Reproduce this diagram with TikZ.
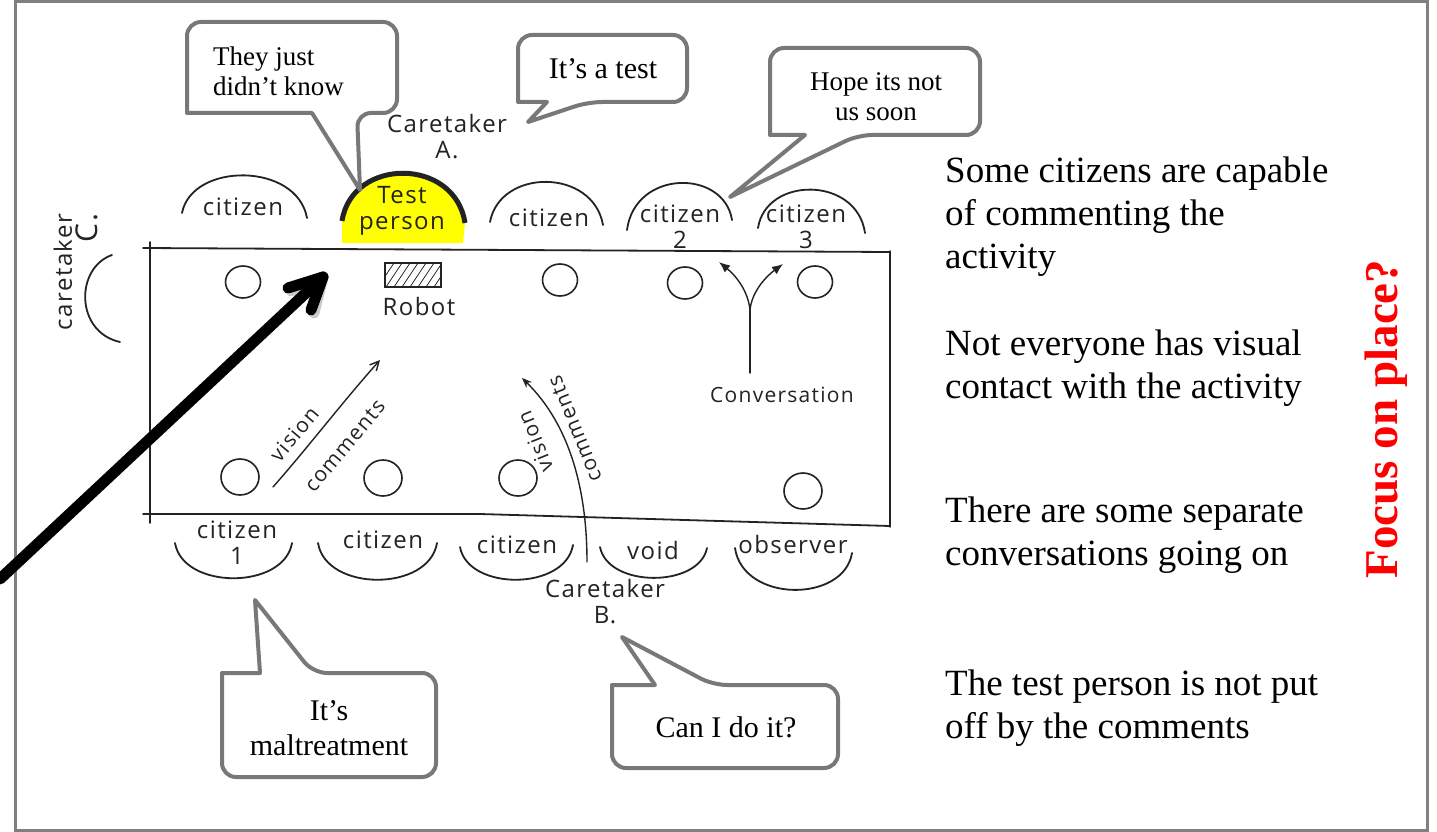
\documentclass[tikz,border=0pt]{standalone}
\usepackage{fontspec}
\setmainfont{Liberation Serif}
\newfontfamily\handfont{Open Sans}[LetterSpace=6]
\usetikzlibrary{arrows.meta,shapes.geometric}

\definecolor{framegray}{RGB}{128,128,128}
\definecolor{bubblegray}{RGB}{120,120,120}
\definecolor{ink}{RGB}{35,35,35}
\definecolor{hilite}{RGB}{255,255,0}
\definecolor{focusred}{RGB}{255,0,0}

\tikzset{
  sketch/.style={draw=ink, line width=1.8pt, line cap=round, line join=round},
  thinink/.style={draw=ink, line width=1.4pt, line cap=round},
  hand/.style={font=\handfont\fontsize{24}{26}\selectfont, text=ink, inner sep=0pt, align=center},
  smallhand/.style={hand, font=\handfont\fontsize{21}{24}\selectfont},
  bubble/.style={draw=bubblegray, line width=4pt, fill=white, line join=round},
  bubbletxt/.style={font=\fontsize{27}{30}\selectfont, inner sep=0pt, align=center},
  bigbubbletxt/.style={font=\fontsize{30}{35}\selectfont, inner sep=0pt, align=center},
  note/.style={font=\fontsize{37}{43}\selectfont, anchor=north west, inner sep=0pt, align=left},
  topspot/.style={draw=ink, line width=1.6pt, ellipse, minimum width=35pt, minimum height=32pt, inner sep=0pt},
  lowspot/.style={draw=ink, line width=1.6pt, ellipse, minimum width=38pt, minimum height=36pt, inner sep=0pt},
  pointer/.style={line width=11pt, line cap=round, line join=round},
}

\begin{document}
\begin{tikzpicture}[x=1pt,y=-1pt]
\useasboundingbox (0,0) rectangle (1437,832);
\fill[white] (0,0) rectangle (1437,832);
\draw[framegray, line width=3pt] (15,2) rectangle (1427,830);

% highlighted seat of the test person
\fill[hilite] (342,243) -- (342,221) .. controls (352,160) and (455,160) .. (465,223) -- (463,243) -- cycle;
\draw[ink, line width=5pt] (342,221) .. controls (352,157) and (455,157) .. (465,223);

% seats along the upper side
\draw[sketch] (182,213) .. controls (192,162) and (297,162) .. (307,218);
\draw[sketch] (490,222) .. controls (500,168) and (593,168) .. (603,225);
\draw[sketch] (627,230) .. controls (635,169) and (724,169) .. (732,220);
\draw[sketch] (758,228) .. controls (766,176) and (857,176) .. (865,233);

% seat of caretaker C
\draw[sketch] (112,255) .. controls (75,268) and (75,332) .. (120,342);

% seats along the lower side
\draw[sketch] (175,543) .. controls (183,590) and (284,590) .. (292,543);
\draw[sketch] (318,543) .. controls (326,592) and (429,592) .. (437,543);
\draw[sketch] (460,547) .. controls (468,591) and (565,591) .. (573,545);
\draw[sketch] (600,547) .. controls (608,588) and (699,588) .. (707,548);
\draw[sketch] (735,548) .. controls (743,603) and (844,603) .. (852,553);

% the table
\draw[sketch] (143,248) -- (890,252);
\draw[sketch] (150,242) -- (150,523);
\draw[sketch] (143,514) -- (480,514) -- (890,526);
\draw[sketch, line width=1.4pt] (890,251) -- (890,527);

% places at the table
\node[topspot] (p1) at (243,282) {};
\node[topspot] (p2) at (560,280) {};
\node[topspot] (p3) at (685,283) {};
\node[topspot] (p4) at (815,282) {};
\node[lowspot] (p5) at (240,477) {};
\node[lowspot] (p6) at (383,478) {};
\node[lowspot] (p7) at (518,478) {};
\node[lowspot] (p8) at (803,491) {};

% robot
\begin{scope}
  \clip (385,263) rectangle (441,287);
  \foreach \k in {0,...,9} \draw[ink, line width=0.8pt] ({376+\k*8},290) -- ({396+\k*8},260);
\end{scope}
\node[draw=ink, line width=1.6pt, minimum width=56pt, minimum height=24pt, inner sep=0pt] (robot) at (413,275) {};
\node[hand] (robotlbl) at (419,306) {Robot};

% seat labels
\node[hand] (c1) at (243,207) {citizen};
\node[hand] (tp) at (402,211) {Test\\person};
\node[hand] (c2) at (549,218) {citizen};
\node[hand] (c3) at (680,227) {citizen\\2};
\node[hand] (c4) at (806,227) {citizen\\3};
\node[hand] (ctA) at (447,137) {Caretaker\\A.};
\node[hand, rotate=90, align=right] (ctC) at (76,272) {caretaker\\\fontsize{30}{30}\selectfont C.};
\node[hand] (c5) at (237,543) {citizen\\1};
\node[hand] (c6) at (383,540) {citizen};
\node[hand] (c7) at (517,545) {citizen};
\node[hand] (vd) at (653,550) {void};
\node[hand] (obs) at (793,544) {observer};
\node[hand] (ctB) at (605,602) {Caretaker\\B.};

% vision and comments towards the robot
\coordinate (va) at (273,487);
\coordinate (vb) at (380,360);
\draw[thinink, -{Straight Barb[length=9pt,width=9pt]}] (va) .. controls (310,445) and (340,405) .. (vb);
\node[smallhand, rotate=50] (vis1) at (294,434) {vision};
\node[smallhand, rotate=50] (com1) at (345,446) {comments};

\coordinate (wa) at (587,562);
\coordinate (wb) at (522,378);
\draw[thinink, -{Stealth[length=10pt,width=8pt]}] (wa) .. controls (587,480) and (565,420) .. (wb);
\node[smallhand, rotate=112] (vis2) at (535,442) {vision};
\node[smallhand, rotate=112] (com2) at (575,429) {comments};

% a separate conversation
\node[smallhand] (conv) at (782,395) {Conversation};
\coordinate (cs) at (750,310);
\coordinate (cl) at (719,262);
\coordinate (cr) at (783,264);
\draw[thinink] (750,373) -- (cs);
\draw[thinink, -{Latex[length=11pt,width=9pt]}] (cs) .. controls (748,290) and (735,275) .. (cl);
\draw[thinink, -{Latex[length=11pt,width=9pt]}] (cs) .. controls (752,290) and (768,275) .. (cr);

% pointer towards the robot
\coordinate (bigtail) at (0,579);
\coordinate (bigtip) at (323,277);
\begin{scope}[shift={(3,3)}, draw=black!40, opacity=0.5, pointer]
  \draw (bigtail) -- (bigtip);
  \draw (288,288) -- (bigtip) -- (311,310);
\end{scope}
\draw[black, pointer] (bigtail) -- (bigtip);
\draw[black, pointer] (288,288) -- (bigtip) -- (311,310);

% speech bubbles
\draw[bubble] (187,67) [rounded corners=14pt] -- (187,22) -- (397,22) -- (397,113) -- (357,113) [sharp corners] -- (360,190) -- (312,113) -- (187,113) [rounded corners=14pt] -- cycle;
\node[bubbletxt, anchor=west, align=left] (b1) at (213,71) {They just\\didn’t know};

\draw[bubble] (518,68) [rounded corners=14pt] -- (518,35) -- (687,35) -- (687,102) -- (588,102) [sharp corners] -- (528,122) -- (547,102) -- (518,102) [rounded corners=14pt] -- cycle;
\node[bigbubbletxt] (b2) at (603,69) {It’s a test};

\draw[bubble] (770,90) [rounded corners=14pt] -- (770,48) -- (980,48) -- (980,135) -- (858,135) [sharp corners] -- (730,197) -- (805,135) -- (770,135) [rounded corners=14pt] -- cycle;
\node[bubbletxt] (b3) at (876,97) {Hope its not\\us soon};

\draw[bubble] (222,725) [rounded corners=14pt] -- (222,777) -- (436,777) -- (436,673) -- (313,673) [sharp corners] -- (255,600) -- (260,673) -- (222,673) [rounded corners=14pt] -- cycle;
\node[bigbubbletxt] (b4) at (329,728) {It’s\\maltreatment};

\draw[bubble] (612,726) [rounded corners=14pt] -- (612,768) -- (838,768) -- (838,685) -- (713,685) [sharp corners] -- (622,637) -- (655,685) -- (612,685) [rounded corners=14pt] -- cycle;
\node[bigbubbletxt] (b5) at (726,727) {Can I do it?};

% observations
\node[note] (n1) at (945,152) {\strut Some citizens are capable\\of commenting the\\activity};
\node[note] (n2) at (945,325) {\strut Not everyone has visual\\contact with the activity};
\node[note] (n3) at (945,492) {\strut There are some separate\\conversations going on};
\node[note] (n4) at (945,665) {\strut The test person is not put\\off by the comments};

\node[font=\bfseries\fontsize{47}{52}\selectfont, text=focusred, rotate=90, inner sep=0pt] (focus) at (1386,419) {Focus on place?};
\end{tikzpicture}
\end{document}
